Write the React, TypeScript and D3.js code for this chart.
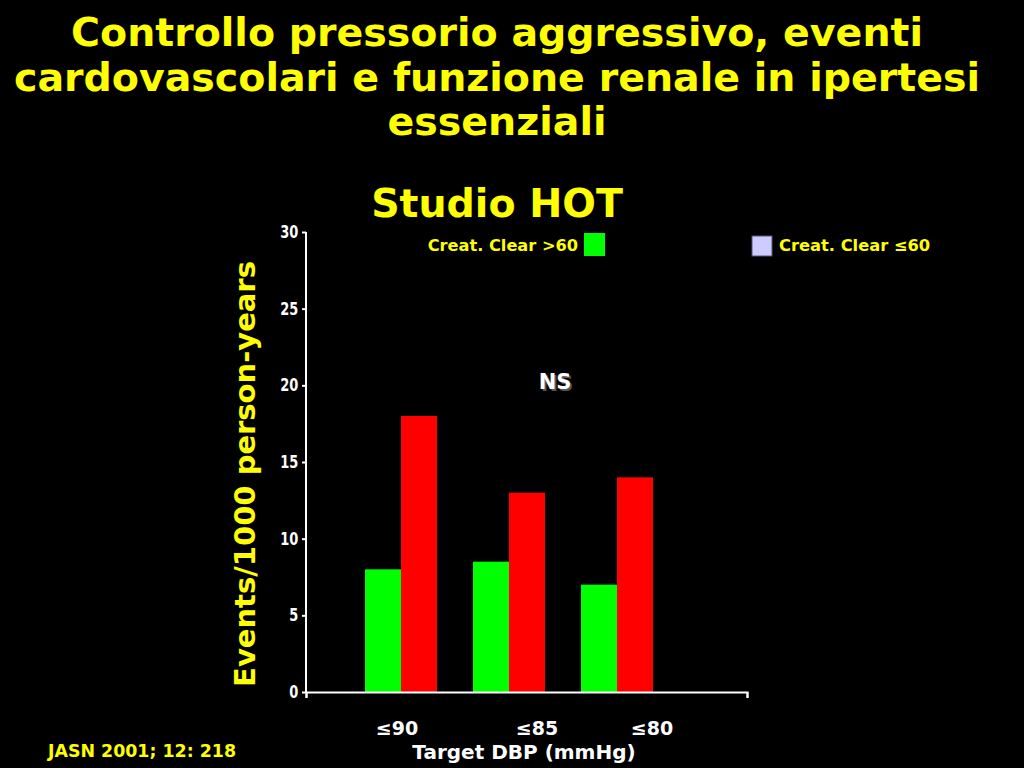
import React, { useEffect, useRef } from 'react';
import * as d3 from 'd3';

const categories = ['≤90', '≤85', '≤80'];
const seriesNames = ['Creat. Clear >60', 'Creat. Clear ≤60'];
const clearHigh = [8, 8.5, 7];
const clearLow = [18, 13, 14];
const yTicks = [0, 5, 10, 15, 20, 25, 30];

const W = 1024;
const H = 768;

export default function App() {
  const svgRef = useRef<SVGSVGElement>(null);

  useEffect(() => {
    if (!svgRef.current) return;
    const svg = d3.select(svgRef.current);
    svg.selectAll('*').remove();

    svg.append('rect').attr('width', W).attr('height', H).attr('fill', '#000');

    const font = 'Verdana, "DejaVu Sans", sans-serif';
    const narrow = '"DejaVu Sans Condensed", "Liberation Sans Narrow", sans-serif';

    // title
    const titleLines = [
      'Controllo pressorio aggressivo, eventi',
      'cardovascolari e funzione renale in ipertesi',
      'essenziali',
    ];
    svg.selectAll('text.title')
      .data(titleLines)
      .enter()
      .append('text')
      .attr('class', 'title')
      .attr('x', 497)
      .attr('y', (_d, i) => 46 + i * 44.5)
      .attr('text-anchor', 'middle')
      .attr('fill', '#ffff00')
      .attr('font-family', font)
      .attr('font-weight', 'bold')
      .attr('font-size', 39.5)
      .text((d) => d);

    svg.append('text')
      .attr('x', 497).attr('y', 217)
      .attr('text-anchor', 'middle')
      .attr('fill', '#ffff00')
      .attr('font-family', font)
      .attr('font-weight', 'bold')
      .attr('font-size', 39.5)
      .text('Studio HOT');

    const x0 = d3.scaleBand<string>()
      .domain(categories)
      .range([347, 671])
      .paddingInner(1 / 3)
      .paddingOuter(1 / 6);
    const x1 = d3.scaleBand<number>()
      .domain([0, 1])
      .range([0, x0.bandwidth()]);
    const y = d3.scaleLinear().domain([0, 30]).range([692, 232]);

    const colors = ['#00ff00', '#ff0000'];
    const groups = svg.append('g');
    categories.forEach((c, i) => {
      [clearHigh[i], clearLow[i]].forEach((v, j) => {
        groups.append('rect')
          .attr('x', (x0(c) ?? 0) + (x1(j) ?? 0))
          .attr('y', y(v))
          .attr('width', x1.bandwidth())
          .attr('height', y(0) - y(v))
          .attr('fill', colors[j]);
      });
    });

    // y axis
    const yAxis = svg.append('g')
      .attr('transform', 'translate(306,0)')
      .call(d3.axisLeft(y).tickValues(yTicks).tickSize(4).tickPadding(5));
    yAxis.select('.domain').attr('stroke', '#fff').attr('stroke-width', 2).attr('d', 'M0,232V692');
    yAxis.selectAll('.tick line').attr('stroke', '#fff').attr('stroke-width', 2);
    yAxis.selectAll('.tick text')
      .attr('fill', '#fff')
      .attr('font-family', narrow)
      .attr('font-weight', 'bold')
      .attr('font-size', 17)
      .style('font-stretch', 'condensed')
      .attr('transform', 'scale(0.85,1.05)')
      .attr('dy', '0.3em');

    // x axis
    const xLine = d3.scaleLinear().domain([0, 1]).range([306, 747]);
    const xAxis = svg.append('g')
      .attr('transform', 'translate(0,692)')
      .call(d3.axisBottom(xLine).tickValues([0, 1]).tickSize(6).tickFormat(() => ''));
    xAxis.select('.domain').attr('stroke', '#fff').attr('stroke-width', 2);
    xAxis.selectAll('.tick line').attr('stroke', '#fff').attr('stroke-width', 2);

    const labelNudge = [-4, 28, 35];
    svg.selectAll('text.cat')
      .data(categories)
      .enter()
      .append('text')
      .attr('class', 'cat')
      .attr('x', (d, i) => (x0(d) ?? 0) + x0.bandwidth() / 2 + labelNudge[i])
      .attr('y', 735)
      .attr('text-anchor', 'middle')
      .attr('fill', '#fff')
      .attr('font-family', font)
      .attr('font-weight', 'bold')
      .attr('font-size', 19)
      .text((d) => d);

    svg.append('text')
      .attr('x', 524).attr('y', 759)
      .attr('text-anchor', 'middle')
      .attr('fill', '#fff')
      .attr('font-family', font)
      .attr('font-weight', 'bold')
      .attr('font-size', 20)
      .text('Target DBP (mmHg)');

    svg.append('text')
      .attr('transform', 'translate(255,474) rotate(-90)')
      .attr('text-anchor', 'middle')
      .attr('fill', '#ffff00')
      .attr('font-family', font)
      .attr('font-weight', 'bold')
      .attr('font-size', 29)
      .text('Events/1000 person-years');

    // legend
    svg.append('text')
      .attr('x', 578).attr('y', 251)
      .attr('text-anchor', 'end')
      .attr('fill', '#ffff00')
      .attr('font-family', font)
      .attr('font-weight', 'bold')
      .attr('font-size', 16.2)
      .text(seriesNames[0]);
    svg.append('rect')
      .attr('x', 584).attr('y', 233).attr('width', 21).attr('height', 23)
      .attr('fill', '#00ff00');
    svg.append('rect')
      .attr('x', 752).attr('y', 236).attr('width', 20).attr('height', 20)
      .attr('fill', '#ccccff').attr('stroke', '#555577').attr('stroke-width', 1);
    svg.append('text')
      .attr('x', 779).attr('y', 251)
      .attr('fill', '#ffff00')
      .attr('font-family', font)
      .attr('font-weight', 'bold')
      .attr('font-size', 16.3)
      .text(seriesNames[1]);

    // NS
    svg.append('text')
      .attr('x', 555).attr('y', 389)
      .attr('text-anchor', 'middle')
      .attr('fill', '#fff')
      .attr('font-family', font)
      .attr('font-weight', 'bold')
      .attr('font-size', 21)
      .style('text-shadow', '2px 2px 0px #555')
      .text('NS');

    svg.append('text')
      .attr('x', 48).attr('y', 757)
      .attr('fill', '#ffff00')
      .attr('font-family', font)
      .attr('font-weight', 'bold')
      .attr('font-size', 17.4)
      .text('JASN 2001; 12: 218');
  }, []);

  return (
    <div style={{ position: 'fixed', left: 0, top: 0, width: W, height: H, background: '#000' }}>
      <svg ref={svgRef} width={W} height={H} style={{ display: 'block' }}></svg>
    </div>
  );
}
